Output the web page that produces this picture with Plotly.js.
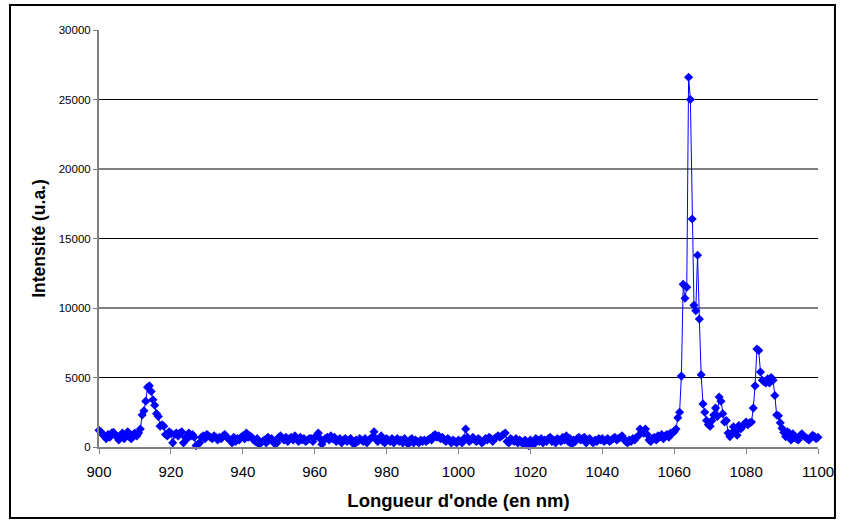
<!DOCTYPE html>
<html>
<head>
<meta charset="utf-8">
<script src="https://cdn.plot.ly/plotly-3.0.1.min.js"></script>
<style>
  html, body { margin: 0; padding: 0; background: #fff; }
  #chart { width: 844px; height: 526px; }
</style>
</head>
<body>
<div id="chart"></div>
<script>
// Wavelength (nm), sampled every 0.5 nm
const wlA = [900,900.5,901,901.5,902,902.5,903,903.5,904,904.5,905,905.5,906,906.5,907,907.5,908,908.5,909,909.5,
910,910.5,911,911.5,912,912.5,913,913.5,914,914.5,915,915.5,916,916.5,917,917.5,918,918.5,919,919.5,
920,920.5,921,921.5,922,922.5,923,923.5,924,924.5,925,925.5,926,926.5,927,927.5,928,928.5,929,929.5,
930,930.5,931,931.5,932,932.5,933,933.5,934,934.5,935,935.5,936,936.5,937,937.5,938,938.5,939,939.5,
940,940.5,941,941.5,942,942.5,943,943.5,944,944.5,945,945.5,946,946.5,947,947.5,948,948.5,949,949.5];
const intA = [1200,1100,900,800,600,900,700,1000,1050,900,700,500,800,1000,600,900,1100,700,600,900,
1000,800,1000,1300,2300,2600,3300,4300,4400,4000,3400,3000,2400,2200,1500,1600,1500,900,800,1100,
1000,300,900,1000,800,1000,1100,300,700,600,1000,800,900,700,100,200,300,700,800,600,
900,800,700,600,800,700,500,700,600,800,900,700,600,500,300,700,400,600,500,700,
800,600,1000,700,800,700,500,400,600,200,300,400,500,300,700,500,600,400,200,300];

const wlB = [950,950.5,951,951.5,952,952.5,953,953.5,954,954.5,955,955.5,956,956.5,957,957.5,958,958.5,959,959.5,
960,960.5,961,961.5,962,962.5,963,963.5,964,964.5,965,965.5,966,966.5,967,967.5,968,968.5,969,969.5,
970,970.5,971,971.5,972,972.5,973,973.5,974,974.5,975,975.5,976,976.5,977,977.5,978,978.5,979,979.5,
980,980.5,981,981.5,982,982.5,983,983.5,984,984.5,985,985.5,986,986.5,987,987.5,988,988.5,989,989.5,
990,990.5,991,991.5,992,992.5,993,993.5,994,994.5,995,995.5,996,996.5,997,997.5,998,998.5,999,999.5];
const intB = [700,800,600,500,700,400,600,700,500,800,600,400,700,500,600,400,500,600,600,400,
700,800,1000,600,200,500,600,700,500,800,600,700,400,500,600,300,500,600,400,500,
600,300,200,500,400,600,500,400,600,300,500,600,700,1100,600,400,500,800,400,300,
600,500,400,600,300,500,600,400,500,300,600,400,200,500,600,300,500,400,300,500,
400,500,400,500,600,500,800,900,700,800,600,700,500,400,600,500,300,500,400,300];

const wlC = [1000,1000.5,1001,1001.5,1002,1002.5,1003,1003.5,1004,1004.5,1005,1005.5,1006,1006.5,1007,1007.5,1008,1008.5,1009,1009.5,
1010,1010.5,1011,1011.5,1012,1012.5,1013,1013.5,1014,1014.5,1015,1015.5,1016,1016.5,1017,1017.5,1018,1018.5,1019,1019.5,
1020,1020.5,1021,1021.5,1022,1022.5,1023,1023.5,1024,1024.5,1025,1025.5,1026,1026.5,1027,1027.5,1028,1028.5,1029,1029.5,
1030,1030.5,1031,1031.5,1032,1032.5,1033,1033.5,1034,1034.5,1035,1035.5,1036,1036.5,1037,1037.5,1038,1038.5,1039,1039.5,
1040,1040.5,1041,1041.5,1042,1042.5,1043,1043.5,1044,1044.5,1045,1045.5,1046,1046.5,1047,1047.5,1048,1048.5,1049,1049.5];
const intC = [500,400,300,600,1300,700,400,500,700,500,400,600,500,300,400,600,500,700,600,400,
600,700,800,700,800,900,1000,400,300,600,500,400,600,300,500,400,200,500,300,100,
500,300,200,600,500,400,600,300,500,400,600,700,400,500,300,600,500,400,700,500,
800,400,600,200,500,400,600,700,500,600,700,300,500,600,400,300,500,400,600,500,
600,400,500,600,400,500,600,700,500,600,700,800,600,400,300,500,400,600,500,700];

const wlD = [1050,1050.5,1051,1051.5,1052,1052.5,1053,1053.5,1054,1054.5,1055,1055.5,1056,1056.5,1057,1057.5,1058,1058.5,1059,1059.5,
1060,1060.5,1061,1061.5,1062,1062.5,1063,1063.5,1064,1064.5,1065,1065.5,1066,1066.5,1067,1067.5,1068,1068.5,1069,1069.5,
1070,1070.5,1071,1071.5,1072,1072.5,1073,1073.5,1074,1074.5,1075,1075.5,1076,1076.5,1077,1077.5,1078,1078.5,1079,1079.5,
1080,1080.5,1081,1081.5,1082,1082.5,1083,1083.5,1084,1084.5,1085,1085.5,1086,1086.5,1087,1087.5,1088,1088.5,1089,1089.5,
1090,1090.5,1091,1091.5,1092,1092.5,1093,1093.5,1094,1094.5,1095,1095.5,1096,1096.5,1097,1097.5,1098,1098.5,1099,1099.5,1100];
const intD = [800,1300,1100,1000,1300,900,500,400,600,700,500,800,700,900,600,800,900,700,1000,1000,
1100,1300,2100,2500,5100,11700,10700,11500,26600,25000,16400,10200,9800,13800,9200,5200,3100,2500,1900,1600,
1500,1900,2300,2800,2200,3600,3300,2400,1800,1900,1000,750,1000,1450,1100,850,1550,1300,1450,1650,
1800,1600,1750,1800,2800,4400,7050,6950,5400,4800,4700,4600,4900,4600,5000,4800,3700,2300,2250,1750,
1350,1050,750,1100,1000,500,950,700,600,500,800,950,800,700,600,500,700,850,750,600,700];

const xTicks = [900,920,940,960,980,1000,1020,1040,1060,1080,1100];
const yTicks = [0,5000,10000,15000,20000,25000,30000];
const yGrid = [5000,10000,15000,20000,25000];

const wl = wlA.concat(wlB, wlC, wlD);
const inten = intA.concat(intB, intC, intD);

const trace = {
  x: wl, y: inten,
  type: 'scatter', mode: 'lines+markers',
  line: {color: '#0000FF', width: 1},
  marker: {symbol: 'diamond', size: 7, color: '#0000FF'},
  hoverinfo: 'x+y', showlegend: false, cliponaxis: false
};

const FONT = 'Arial, "Liberation Sans", Helvetica, sans-serif';
const shapes = yGrid.map(v => ({
  type: 'line', xref: 'paper', yref: 'y', x0: 0, x1: 1, y0: v, y1: v,
  line: {color: '#000000', width: 1}, layer: 'below'
}));
// outer frame around the chart
shapes.push({
  type: 'rect', xref: 'paper', yref: 'paper',
  x0: -0.1238, x1: 1.0236, y0: -0.170, y1: 1.06,
  line: {color: '#000000', width: 2}, fillcolor: 'rgba(0,0,0,0)', layer: 'below'
});

const layout = {
  width: 844, height: 526,
  margin: {l: 99, r: 26, t: 30, b: 79, pad: 0},
  paper_bgcolor: '#ffffff', plot_bgcolor: '#ffffff',
  font: {family: FONT, color: '#000000'},
  xaxis: {
    range: [900, 1100], tickvals: xTicks, ticktext: xTicks.map(String),
    showgrid: false, zeroline: false,
    showline: true, linecolor: '#808080', linewidth: 2,
    ticks: 'outside', ticklen: 5, tickcolor: '#808080', tickwidth: 1,
    ticklabelstandoff: 5,
    tickfont: {family: FONT, size: 15, color: '#000000'},
    title: {text: "Longueur d'onde (en nm)", font: {family: FONT, size: 18.5, color: '#000000', weight: 'bold'}, standoff: 15}
  },
  yaxis: {
    range: [0, 30000], tickvals: yTicks, ticktext: yTicks.map(String),
    showgrid: false, zeroline: false,
    showline: true, linecolor: '#808080', linewidth: 2,
    ticks: 'outside', ticklen: 4, tickcolor: '#808080', tickwidth: 1,
    tickfont: {family: FONT, size: 11.5, color: '#000000'},
    title: {text: 'Intensité (u.a.)', font: {family: FONT, size: 17.5, color: '#000000', weight: 'bold'}, standoff: 9}
  },
  shapes: shapes
};

Plotly.newPlot('chart', [trace], layout, {displayModeBar: false, staticPlot: true});
</script>
</body>
</html>
